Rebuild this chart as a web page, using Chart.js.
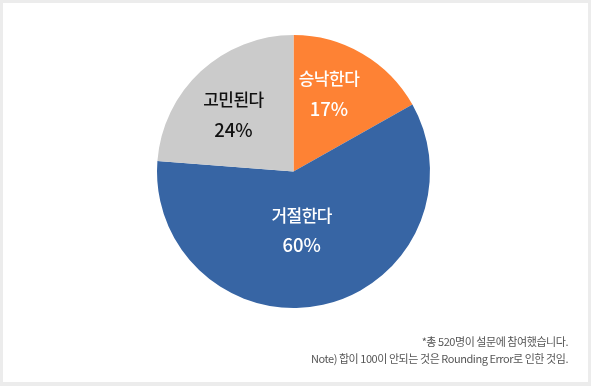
<!DOCTYPE html>
<html>
<head>
<meta charset="utf-8">
<script src="https://cdn.jsdelivr.net/npm/chart.js@4"></script>
<style>
  html, body { margin: 0; padding: 0; background: #ececec; }
  #wrap { position: absolute; left: 3px; top: 3px; width: 585px; height: 379px; background: #fff; }
  #chartBox { position: absolute; left: 0; top: 0; width: 585px; height: 379px; }
  .note { position: absolute; right: 20px; font-family: "Noto Sans CJK KR", "Noto Sans", sans-serif; font-size: 11px; color: #555; letter-spacing: -0.45px; }
</style>
</head>
<body>
<div id="wrap">
  <div id="chartBox"><canvas id="myChart"></canvas></div>
  <div class="note" style="top:330px;">*총 520명이 설문에 참여했습니다.</div>
  <div class="note" style="top:347px;">Note) 합이 100이 안되는 것은 Rounding Error로 인한 것임.</div>
</div>
<script>
// 데이터
var categories = ['승낙한다', '거절한다', '고민된다'];
var values = [17, 60, 24];
var sliceColors = ['#fe8234', '#3765a4', '#cbcbcb'];
var textColors = ['#ffffff', '#ffffff', '#111111'];

// 라벨 위치 (반지름 대비 중심으로부터의 위치)
var labelOffsets = [[0.26, -0.57], [0.06, 0.43], [-0.44, -0.415]];

var sliceLabels = {
    id: 'sliceLabels',
    afterDatasetsDraw: function (chart) {
        var ctx = chart.ctx;
        var meta = chart.getDatasetMeta(0);
        ctx.save();
        ctx.textAlign = 'center';
        ctx.textBaseline = 'middle';
        meta.data.forEach(function (arc, i) {
            var r = arc.outerRadius;
            var x = arc.x + labelOffsets[i][0] * r;
            var y = arc.y + labelOffsets[i][1] * r;
            ctx.fillStyle = textColors[i];
            ctx.font = '500 17px "Noto Sans CJK KR", sans-serif';
            ctx.letterSpacing = '-0.5px';
            ctx.fillText(categories[i], x, y - 15);
            ctx.font = '500 18.5px "Noto Sans CJK KR", sans-serif';
            ctx.letterSpacing = '0px';
            ctx.fillText(values[i] + '%', x, y + 15);
        });
        ctx.restore();
    }
};

var ctx = document.getElementById('myChart').getContext('2d');
window.myChart = new Chart(ctx, {
    type: 'pie',
    data: {
        labels: categories,
        datasets: [{
            data: values,
            backgroundColor: sliceColors,
            borderWidth: 0
        }]
    },
    options: {
        responsive: true,
        maintainAspectRatio: false,
        animation: false,
        layout: { padding: { left: 154, right: 158, top: 32, bottom: 74 } },
        plugins: {
            legend: { display: false },
            tooltip: { enabled: false }
        }
    },
    plugins: [sliceLabels]
});
</script>
</body>
</html>
